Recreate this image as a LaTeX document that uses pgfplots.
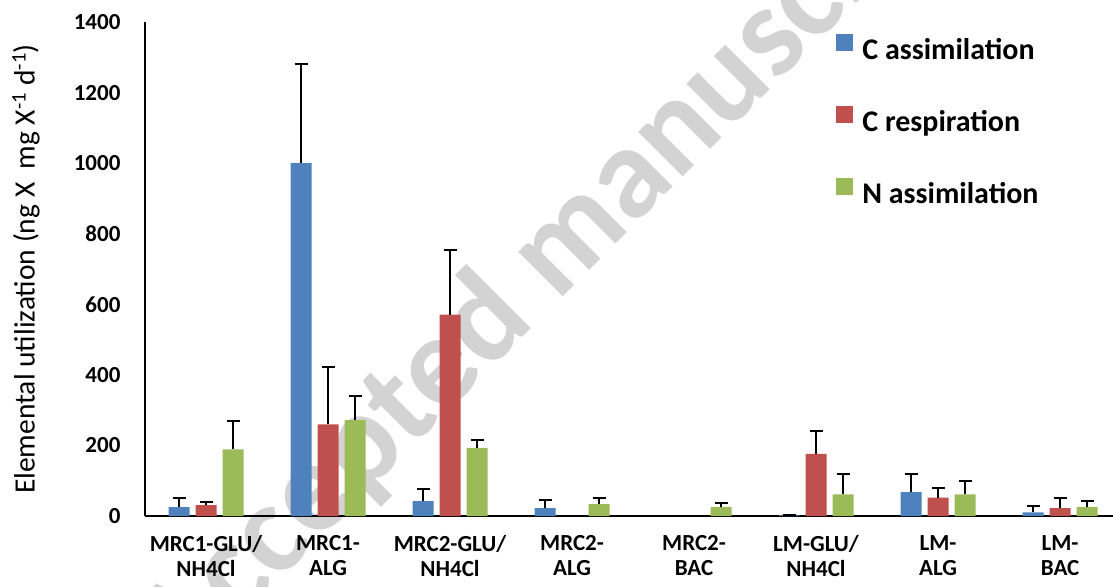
\documentclass[border=0pt]{standalone}
\usepackage{pgfplots}
\pgfplotsset{compat=1.18}
\usepackage{pgfplotstable}
\usepackage{fontspec}
\setmainfont{Carlito}

\definecolor{cblue}{HTML}{4F81BD}
\definecolor{cred}{HTML}{C0504D}
\definecolor{cgreen}{HTML}{9BBB59}
\definecolor{wmark}{HTML}{D3D3D3}

% x = category index, y = mean, e = upper error
\pgfplotstableread{
x y e
0 25 25
1 1000 280
2 42 35
3 22 24
5 2 1
6 68 51
7 10 19
}\cassim
\pgfplotstableread{
x y e
0 31 8
1 260 163
2 571 183
5 176 64
6 52 27
7 22 28
}\cresp
\pgfplotstableread{
x y e
0 189 81
1 272 69
2 193 22
3 34 18
4 25 11
5 61 58
6 61 39
7 25 17
}\nassim

\begin{document}
\begin{tikzpicture}
% the axis box starts at (0,0); the page reaches 145pt left and 70pt below it
\path[use as bounding box] (-145pt,-70pt) rectangle (968pt,516pt);
\clip (-145pt,-70pt) rectangle (968pt,516pt);
\node[rotate=45, text=wmark, font=\bfseries\fontsize{130}{130}\selectfont, inner sep=0pt]
  at (415pt,266pt) {Accepted manuscript};
\begin{axis}[
  at={(0pt,0pt)}, anchor=south west,
  scale only axis, width=968pt, height=494pt,
  xmin=-0.5, xmax=7.434, ymin=0, ymax=1400,
  axis x line*=bottom, axis y line*=left,
  axis line style={-, line width=2.5pt, black},
  major tick length=0pt,
  ytick={0,200,...,1400},
  xtick={0,...,7},
  xticklabels={{MRC1-GLU/\\NH4Cl},{MRC1-\\ALG},{MRC2-GLU/\\NH4Cl},{MRC2-\\ALG},{MRC2-\\BAC},{LM-GLU/\\NH4Cl},{LM-\\ALG},{LM-\\BAC}},
  xticklabel style={align=center, font=\bfseries\fontsize{23}{25}\selectfont, yshift=-16pt},
  yticklabel style={font=\bfseries\fontsize{23}{26}\selectfont, xshift=-21pt,
    /pgf/number format/assume math mode=true, /pgf/number format/1000 sep={}},
  ylabel={Elemental utilization (ng X~~mg X\textsuperscript{-1} d\textsuperscript{-1})},
  ylabel style={font=\fontsize{29.5}{32}\selectfont, at={(axis description cs:-0.123,0.5)}, anchor=center},
  ybar, bar width=21pt,
  legend image code/.code={\fill[#1] (0pt,-1pt) rectangle (17pt,16pt);},
  legend style={draw=none, fill=none, at={(0.714,0.977)}, anchor=north west,
    inner sep=0pt, row sep=43pt,
    font=\bfseries\fontsize{30}{32}\selectfont,
    /tikz/every odd column/.append style={column sep=7pt}},
  legend cell align=left,
  error bars/y dir=plus, error bars/y explicit,
  error bars/error bar style={line width=2.5pt, black},
  error bars/error mark options={rotate=90, line width=2pt, black, mark size=6.5pt},
]
\addplot[fill=cblue, draw=none, bar shift=-27pt] table[x=x, y=y, y error=e] {\cassim};
\addplot[fill=cred, draw=none, bar shift=0pt] table[x=x, y=y, y error=e] {\cresp};
\addplot[fill=cgreen, draw=none, bar shift=27pt] table[x=x, y=y, y error=e] {\nassim};
\legend{C assimilation, C respiration, N assimilation}
\end{axis}
\end{tikzpicture}
\end{document}
